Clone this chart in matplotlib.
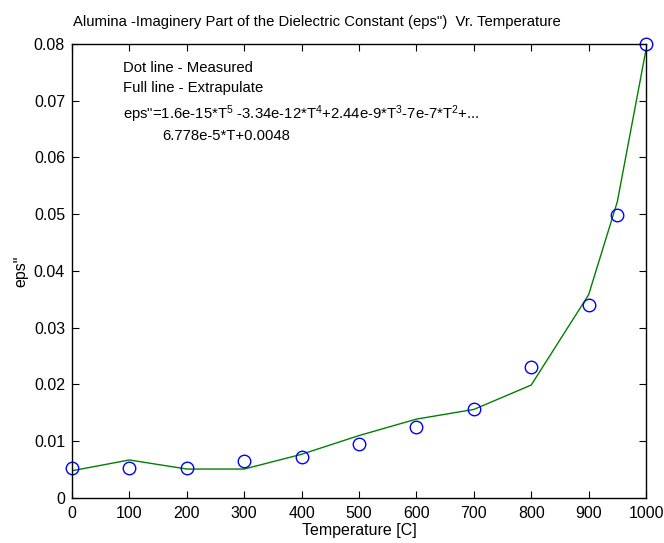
import matplotlib
matplotlib.use("Agg")
from matplotlib import pyplot as plt

plt.rcParams['font.family'] = ['Liberation Sans', 'DejaVu Sans']
plt.rcParams['mathtext.fontset'] = 'custom'
plt.rcParams['mathtext.rm'] = 'Liberation Sans'
plt.rcParams['mathtext.it'] = 'Liberation Sans'

# measured values (circles)
temp_meas = [0, 100, 200, 300, 400, 500, 600, 700, 800, 900, 950, 1000]
eps_meas = [0.0053, 0.0053, 0.0053, 0.0066, 0.0073, 0.0095, 0.0125, 0.0156,
            0.0231, 0.0340, 0.0499, 0.0800]

# extrapolated / fitted values (green line)
temp_fit = [0, 100, 200, 300, 400, 500, 600, 700, 800, 900, 950, 1000]
eps_fit = [0.0048, 0.0067, 0.0051, 0.0051, 0.0077, 0.0110, 0.0139, 0.0156,
           0.0199, 0.0358, 0.0522, 0.0790]

fig = plt.figure(figsize=(6.64, 5.43), dpi=100)
ax = fig.add_axes([0.1084, 0.0829, 0.8645, 0.8361])

ax.plot(temp_fit, eps_fit, color='#008000', linewidth=1.0)
ax.plot(temp_meas, eps_meas, 'o', markerfacecolor='none', markeredgecolor='#0000ff',
        markersize=9, markeredgewidth=1.0, clip_on=False)

ax.set_xlim(0, 1000)
ax.set_ylim(0, 0.08)
ax.set_xticks(range(0, 1001, 100))
ax.set_yticks([0, 0.01, 0.02, 0.03, 0.04, 0.05, 0.06, 0.07, 0.08])
ax.set_yticklabels(['0', '0.01', '0.02', '0.03', '0.04', '0.05', '0.06', '0.07', '0.08'])
ax.tick_params(direction='in', top=True, right=True, labelsize=11.5, length=5, width=0.8)
ax.tick_params(axis='x', pad=6)
ax.tick_params(axis='y', pad=5)
for s in ax.spines.values():
    s.set_linewidth(1.0)

ax.set_xlabel('Temperature [C]', fontsize=11.5, labelpad=1)
ax.set_ylabel('eps"', fontsize=11.5, labelpad=4)
fig.text(73 / 664, 1 - 22 / 543,
         'Alumina -Imaginery Part of the Dielectric Constant (eps")  Vr. Temperature',
         fontsize=10.7, ha='left', va='center')

fs = 10.7
ax.text(89, 0.0758, 'Dot line - Measured', fontsize=fs, va='center')
ax.text(89, 0.0722, 'Full line - Extrapulate', fontsize=fs, va='center')
ax.text(89, 0.0677, r'eps"=1.6e-15*T$^5$ -3.34e-12*T$^4$+2.44e-9*T$^3$-7e-7*T$^2$+...',
        fontsize=fs, va='center')
ax.text(158, 0.0638, '6.778e-5*T+0.0048', fontsize=fs, va='center')

fig.savefig('out.png', dpi=100)
